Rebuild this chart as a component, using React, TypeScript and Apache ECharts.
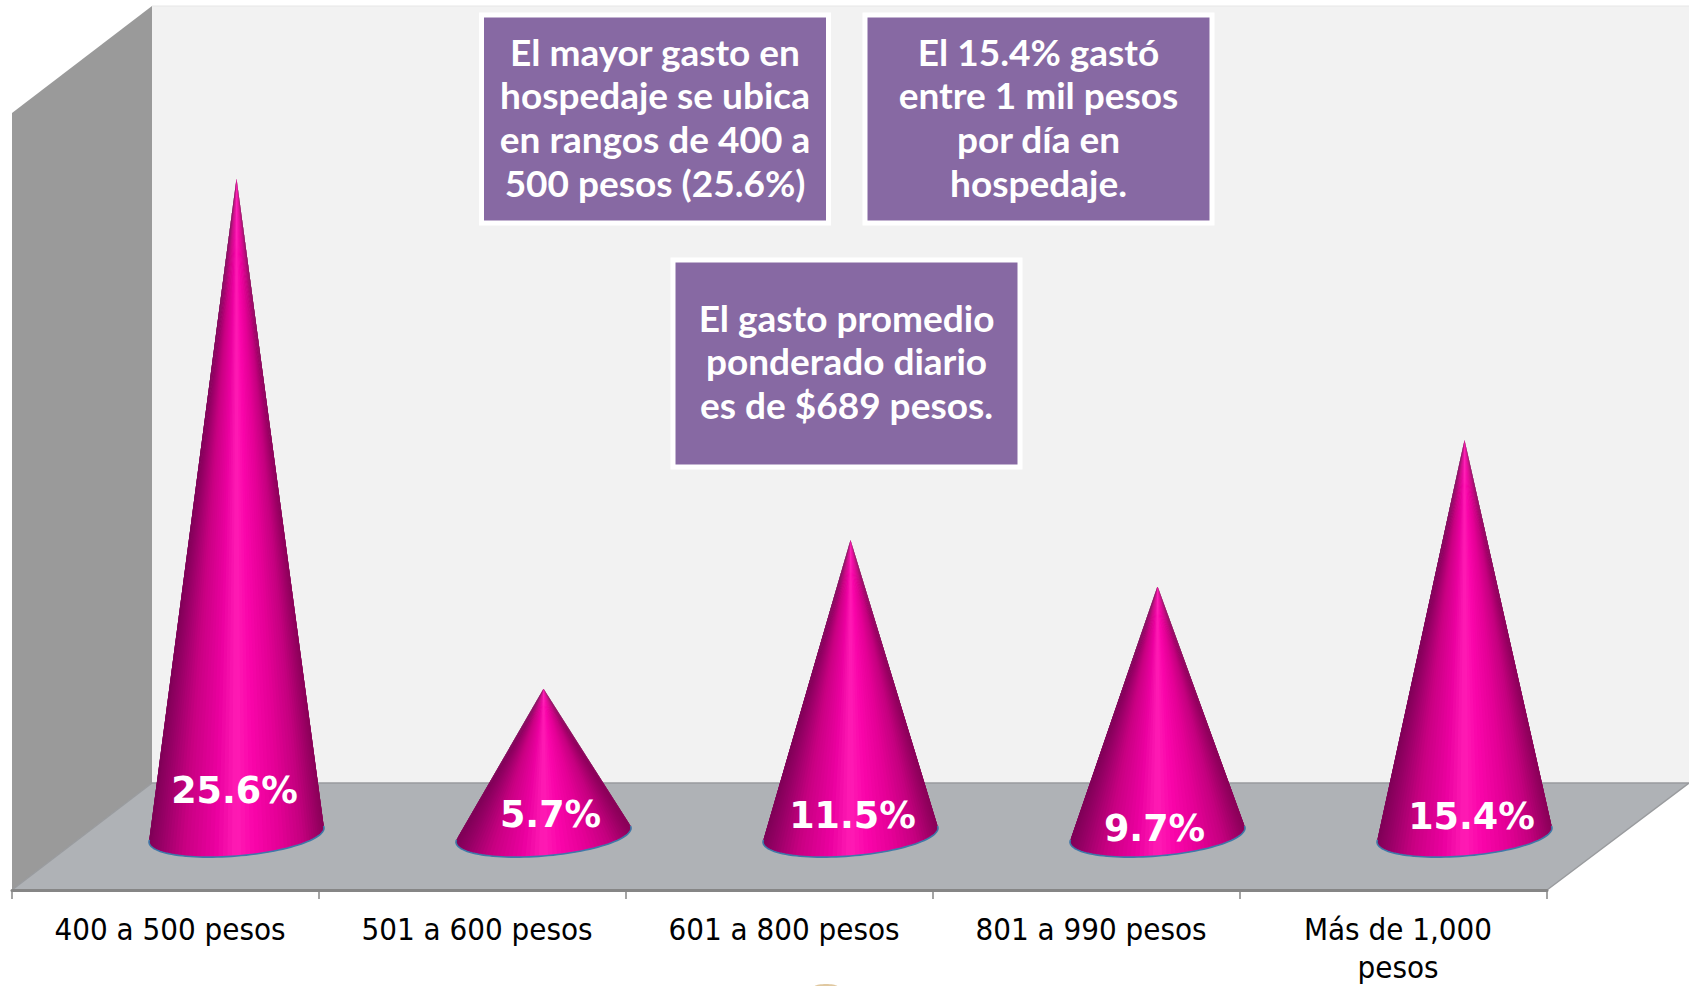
import React, { useEffect, useRef } from "react";
import * as echarts from "echarts";

const categories = ["400 a 500 pesos", "501 a 600 pesos", "601 a 800 pesos", "801 a 990 pesos", "Más de 1,000\npesos"];
const shares = [25.6, 5.7, 11.5, 9.7, 15.4];
const labelNudgeX = [-2, 7, 2, -3, 7];
const labelNudgeY = [-45, -21, -20, -7, -19];
const calloutTop1 = ["El mayor gasto en", "hospedaje se ubica", "en rangos de 400 a", "500 pesos (25.6%)"];
const calloutTop2 = ["El 15.4% gastó", "entre 1 mil pesos", "por día en", "hospedaje."];
const calloutMid = ["El gasto promedio", "ponderado diario", "es de $689 pesos."];

const GRID = { left: 12, right: 142, top: 113, bottom: 96, outerBoundsMode: "none" };
const W = 1689, H = 986;
const FRONT_Y = H - GRID.bottom;
const BACK_X = 152, BACK_Y = 783, TOP_Y = 6;
const DX = 71, DY = -55;

const stops: [number, number[]][] = [
  [0, [128, 0, 88]], [0.2, [200, 0, 130]], [0.38, [235, 0, 160]], [0.5, [255, 28, 180]],
  [0.6, [250, 5, 170]], [0.75, [228, 0, 150]], [0.88, [195, 0, 126]], [1, [138, 0, 88]],
];
function shade(u: number) {
  const t = Math.max(0, Math.min(1, u));
  for (let i = 1; i < stops.length; i++) {
    if (t <= stops[i][0]) {
      const [a, ca] = stops[i - 1], [b, cb] = stops[i];
      const f = (t - a) / (b - a);
      const c = ca.map((v, k) => Math.round(v + (cb[k] - v) * f));
      return `rgb(${c[0]},${c[1]},${c[2]})`;
    }
  }
  return "rgb(138,0,88)";
}

function renderCone(params: any, api: any) {
  const i = api.value(0), v = api.value(1);
  const band = api.size([1, 0])[0];
  const top = api.coord([i, v]);
  const bottom = api.coord([i, 0]);
  const cx = bottom[0] + DX, cy = bottom[1] + DY;
  const ax = top[0] + DX, ay = top[1] + DY;
  const ra = band * 0.285, tilt = 7, rb = 21;
  const pt = (t: number) => [cx + ra * Math.cos(t), cy - tilt * Math.cos(t) + rb * Math.sin(t)];
  const N = 70, ext = 0.25;
  const step = (Math.PI + 2 * ext) / N;
  const children: any[] = [];
  const rim: number[][] = [];
  for (let k = 0; k < N; k++) {
    const t0 = -ext + step * k;
    const t1 = -ext + step * Math.min(k + 2, N);
    const mid = t0 + step / 2;
    const clamped = Math.max(0, Math.min(Math.PI, mid));
    const col = shade((Math.cos(clamped) + 1) / 2);
    children.push({ type: "polygon", shape: { points: [[ax, ay], pt(t0), pt(t0 + step), pt(t1)] }, style: { fill: col } });
  }
  for (let k = 0; k <= 60; k++) rim.push(pt(-0.1 + ((Math.PI + 0.2) * k) / 60));
  children.push({ type: "polyline", shape: { points: rim }, style: { fill: "none", stroke: "#3f78a8", lineWidth: 1.6 } });
  children.push({
    type: "text",
    style: {
      text: v.toFixed(1) + "%", x: cx + labelNudgeX[i], y: cy + labelNudgeY[i],
      fill: "#ffffff", font: 'bold 36.5px "DejaVu Sans"', align: "center", verticalAlign: "middle",
    },
  });
  return { type: "group", children };
}

function callout(x: number, y: number, w: number, h: number, lines: string[], firstY: number) {
  const els: any[] = [
    { type: "rect", shape: { x, y, width: w, height: h }, style: { fill: "#8769a3", stroke: "#ffffff", lineWidth: 5 } },
  ];
  lines.forEach((line, k) => {
    els.push({
      type: "text", x: x + w / 2, y: firstY + k * 43.7,
      style: { text: line, fill: "#ffffff", font: 'bold 37px Lato, "Open Sans"', align: "center", verticalAlign: "middle" },
    });
  });
  return els;
}

export default function App() {
  const ref = useRef<HTMLDivElement>(null);
  useEffect(() => {
    const chart = echarts.init(ref.current!, undefined, { renderer: "svg", width: W, height: H });
    chart.setOption({
      animation: false,
      backgroundColor: "#ffffff",
      grid: GRID,
      xAxis: {
        type: "category", data: categories,
        axisLine: { lineStyle: { color: "#868686", width: 3 } },
        axisTick: { show: true, length: 9, lineStyle: { color: "#868686", width: 1.5 } },
        axisLabel: { color: "#000", fontFamily: '"DejaVu Sans Condensed", "DejaVu Sans"', fontSize: 31, lineHeight: 38, margin: 20, interval: 0, padding: [0, 0, 0, 9] },
      },
      yAxis: { type: "value", min: 0, max: 30.3, show: false },
      graphic: [
        { type: "polygon", z: -10, shape: { points: [[BACK_X, TOP_Y], [W, TOP_Y], [W, BACK_Y], [BACK_X, BACK_Y]] }, style: { fill: "#f2f2f2" } },
        { type: "line", z: -9, shape: { x1: BACK_X, y1: TOP_Y, x2: W, y2: TOP_Y }, style: { stroke: "#e6e6e6", lineWidth: 1 } },
        { type: "polygon", z: -10, shape: { points: [[GRID.left, GRID.top], [BACK_X, TOP_Y], [BACK_X, BACK_Y], [GRID.left, FRONT_Y]] }, style: { fill: "#9a9a9a" } },
        { type: "polygon", z: -8, shape: { points: [[BACK_X, BACK_Y], [W, BACK_Y], [W - 142, FRONT_Y], [GRID.left, FRONT_Y]] }, style: { fill: "#afb2b6" } },
        { type: "polyline", z: -7, shape: { points: [[GRID.left, FRONT_Y], [BACK_X, BACK_Y], [W, BACK_Y], [W - 142, FRONT_Y]] }, style: { fill: "none", stroke: "#999b9e", lineWidth: 1.5 } },
        { type: "ellipse", z: -7, shape: { cx: 826, cy: 987, rx: 12, ry: 3 }, style: { fill: "#e0c8a0" } },
        ...callout(481.5, 15, 347, 208, calloutTop1, 51),
        ...callout(865, 15, 347, 208, calloutTop2, 51),
        ...callout(673, 260, 347, 207, calloutMid, 317),
      ],
      series: [
        { type: "custom", renderItem: renderCone, data: shares.map((v, i) => [i, v]), encode: { x: 0, y: 1 }, clip: false, z: 3 },
      ],
    });
    return () => chart.dispose();
  }, []);
  return <div ref={ref} style={{ position: "fixed", left: 0, top: 0, width: W, height: H }} />;
}
